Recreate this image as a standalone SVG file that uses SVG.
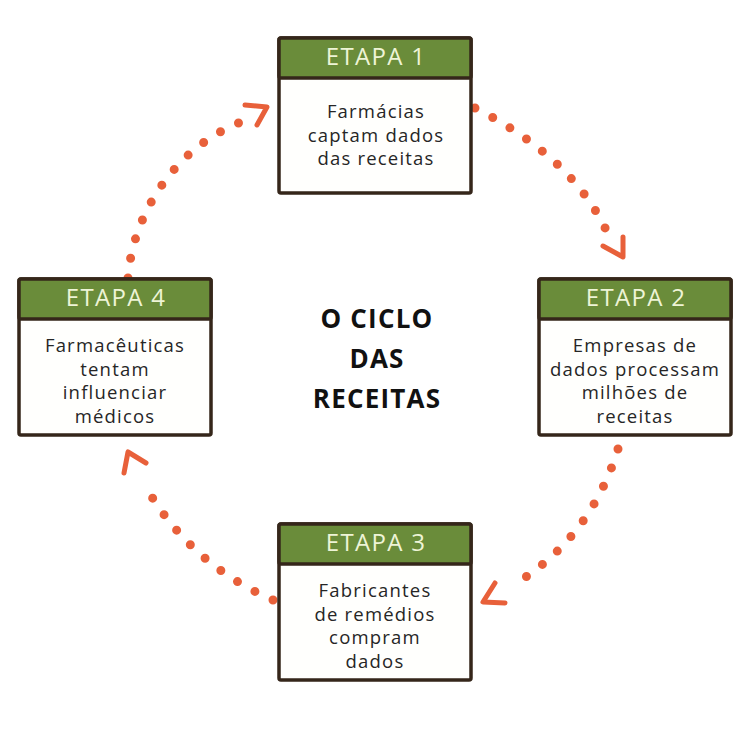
<svg xmlns="http://www.w3.org/2000/svg" width="750" height="731" viewBox="0 0 750 731">
<style>
.box{fill:#fffffd;stroke:#35261a;stroke-width:3.5;stroke-linejoin:round}
.hdr{fill:#6a8c3a;stroke:#35261a;stroke-width:3.5;stroke-linejoin:round}
.ht{font-family:"Open Sans","Liberation Sans",sans-serif;font-size:24px;font-weight:500;fill:#eef4d6;text-anchor:middle;letter-spacing:1.3px}
.bt{font-family:"Open Sans","Liberation Sans",sans-serif;font-size:18.5px;fill:#262626;text-anchor:middle;letter-spacing:1.2px}
.title{font-family:"Open Sans","Liberation Sans",sans-serif;font-size:26px;font-weight:700;fill:#111;text-anchor:middle;letter-spacing:1.2px}
.dots{fill:none;stroke:#e8603a;stroke-width:9;stroke-linecap:round;stroke-dasharray:0 20}
.head{fill:none;stroke:#e8603a;stroke-width:5;stroke-linecap:round;stroke-linejoin:round}
</style>
<rect width="750" height="731" fill="#ffffff"/>
<g id="connectors">
<path class="dots" d="M475,108 Q573,158 607,232"/>
<polyline class="head" points="603,246 623,257 623,237"/>
<path class="dots" d="M618,449 Q590,540 510,587"/>
<polyline class="head" points="495,583 483,602 505,603"/>
<path class="dots" d="M273,600 Q188,563 143,482"/>
<polyline class="head" points="146,463 128,452 124,473"/>
<path class="dots" d="M128,278 C132,220 170,150 241,122"/>
<polyline class="head" points="245,105 267,107 257,125"/>
</g>
<g id="etapa1">
<rect class="box" x="279" y="38" width="192" height="155" rx="2"/>
<rect class="hdr" x="279" y="38" width="192" height="40" rx="2"/>
<text class="ht" x="376" y="65">ETAPA 1</text>
<text class="bt" x="376" y="118">Farmácias</text>
<text class="bt" x="376" y="142">captam dados</text>
<text class="bt" x="376" y="165">das receitas</text>
</g>
<g id="etapa2">
<rect class="box" x="539" y="279" width="192" height="156" rx="2"/>
<rect class="hdr" x="539" y="279" width="192" height="40" rx="2"/>
<text class="ht" x="636" y="306">ETAPA 2</text>
<text class="bt" x="635" y="352">Empresas de</text>
<text class="bt" x="635" y="376">dados processam</text>
<text class="bt" x="635" y="399">milhões de</text>
<text class="bt" x="635" y="423">receitas</text>
</g>
<g id="etapa3">
<rect class="box" x="279" y="524" width="192" height="156" rx="2"/>
<rect class="hdr" x="279" y="524" width="192" height="40" rx="2"/>
<text class="ht" x="376" y="551">ETAPA 3</text>
<text class="bt" x="375" y="597">Fabricantes</text>
<text class="bt" x="375" y="621">de remédios</text>
<text class="bt" x="375" y="644">compram</text>
<text class="bt" x="375" y="668">dados</text>
</g>
<g id="etapa4">
<rect class="box" x="19" y="279" width="192" height="156" rx="2"/>
<rect class="hdr" x="19" y="279" width="192" height="40" rx="2"/>
<text class="ht" x="116" y="306">ETAPA 4</text>
<text class="bt" x="115" y="352">Farmacêuticas</text>
<text class="bt" x="115" y="376">tentam</text>
<text class="bt" x="115" y="399">influenciar</text>
<text class="bt" x="115" y="423">médicos</text>
</g>
<g id="titulo">
<text class="title" x="377" y="328">O CICLO</text>
<text class="title" x="377" y="368">DAS</text>
<text class="title" x="377" y="408">RECEITAS</text>
</g>
</svg>
